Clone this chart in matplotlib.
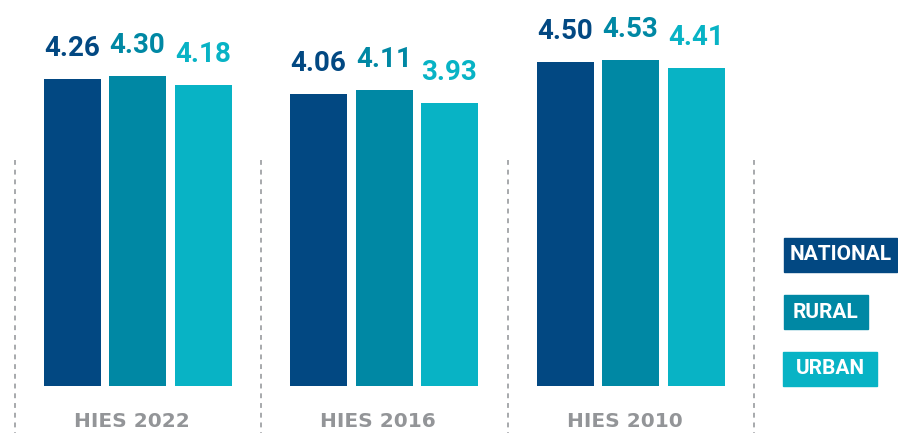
import numpy as np
import matplotlib.pyplot as plt
from matplotlib.patches import Rectangle

surveys = ["HIES 2022", "HIES 2016", "HIES 2010"]
series = ["NATIONAL", "RURAL", "URBAN"]
national = [4.26, 4.06, 4.50]
rural = [4.30, 4.11, 4.53]
urban = [4.18, 3.93, 4.41]
colors = ["#024882", "#0088a4", "#08b3c5"]

W, H = 898, 433
fig = plt.figure(figsize=(W / 100, H / 100), dpi=100)
ax = fig.add_axes([0, (H - 386) / H, 760 / W, 386 / H])
ax.set_xlim(0, 760)
ax.set_ylim(0, 386 / 72)
ax.axis("off")

num = ["Roboto", "DejaVu Sans"]
centers = 137.5 + 246.5 * np.arange(len(surveys))
offsets = [-65.5, 0, 65.5]
values = [national, rural, urban]
for k in range(3):
    xs = centers + offsets[k]
    ax.bar(xs, values[k], width=57, color=colors[k])
    for x, v in zip(xs, values[k]):
        ax.text(x, v + 23 / 72, f"{v:.2f}", ha="center", va="baseline",
                fontsize=20, fontweight="bold", color=colors[k], family=num)

# dashed separators
for x in list(centers - 123) + [centers[-1] + 123]:
    ax.plot([x, x], [(386 - 160) / 72, -0.7], color="#a7a9ac", lw=1.4,
            ls=(0, (2.5, 2.5)), clip_on=False)

for c, s in zip(centers, surveys):
    ax.text(c - 6, (386 - 427) / 72, s, ha="center", va="baseline", fontsize=14.5,
            fontweight="bold", color="#939598", family="DejaVu Sans",
            clip_on=False)

# legend boxes (pixel layout)
boxes = [(784, 238, 897, 272), (784, 295, 868, 329), (783, 352, 877, 386)]
for (x0, y0, x1, y1), name, col in zip(boxes, series, colors):
    fig.patches.append(Rectangle((x0 / W, 1 - y1 / H), (x1 - x0) / W, (y1 - y0) / H,
                                 transform=fig.transFigure, color=col))
    fig.text((x0 + x1) / 2 / W, 1 - (y0 + y1) / 2 / H, name, ha="center", va="center",
             fontsize=15, fontweight="bold", color="white", family=num)

fig.savefig("out.png", dpi=100)
